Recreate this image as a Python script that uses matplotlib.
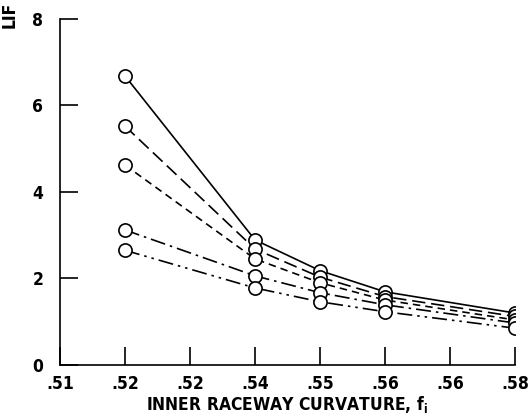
import matplotlib
matplotlib.use("Agg")
import matplotlib.pyplot as plt

# inner raceway curvature values and life factors
curvature = [0.52, 0.54, 0.55, 0.56, 0.58]
life_solid = [6.68, 2.89, 2.18, 1.69, 1.20]
life_long_dash = [5.52, 2.68, 2.03, 1.58, 1.12]
life_short_dash = [4.62, 2.45, 1.90, 1.50, 1.04]
life_dash_dot = [3.12, 2.06, 1.67, 1.39, 0.97]
life_dash_dot_dot = [2.65, 1.78, 1.46, 1.23, 0.85]

tick_pos = [0.51, 0.52, 0.53, 0.54, 0.55, 0.56, 0.57, 0.58]
tick_labels = [".51", ".52", ".52", ".54", ".55", ".56", ".56", ".58"]
y_ticks = [0, 2, 4, 6, 8]

styles = [
    (life_solid, "-"),
    (life_long_dash, (0, (8, 3.5))),
    (life_short_dash, (0, (4.5, 3))),
    (life_dash_dot, (0, (9, 3, 1.5, 3))),
    (life_dash_dot_dot, (0, (9, 3, 1.5, 3, 1.5, 3))),
]

font = dict(family="DejaVu Sans", stretch="condensed", size=12.5)

fig = plt.figure(figsize=(5.31, 4.19), dpi=100)
ax = fig.add_axes([0.113, 0.129, 0.857, 0.826])

for vals, ls in styles:
    ax.plot(curvature, vals, color="black", linestyle=ls, linewidth=1.2,
            marker="o", markersize=9.5, markerfacecolor="white",
            markeredgecolor="black", markeredgewidth=1.2)

ax.set_xlim(0.51, 0.58)
ax.set_ylim(0, 8)
ax.set_xticks(tick_pos)
ax.set_xticklabels(tick_labels, **font)
ax.set_yticks(y_ticks)
ax.set_yticklabels([str(v) for v in y_ticks], **font)
ax.tick_params(direction="in", length=13, width=1.2)
ax.tick_params(axis="x", pad=7)
ax.tick_params(axis="y", pad=12)
for side in ["top", "right"]:
    ax.spines[side].set_visible(False)
for side in ["left", "bottom"]:
    ax.spines[side].set_linewidth(1.2)
for lbl in ax.get_xticklabels() + ax.get_yticklabels():
    lbl.set_fontweight("bold")

ax.set_xlabel("INNER RACEWAY CURVATURE, f$_\\mathregular{i}$", fontweight="bold",
              labelpad=1, **font)
fig.text(0.018, 0.995, "LIF", rotation=90, ha="center", va="top",
         fontweight="bold", **font)

fig.savefig("out.png", dpi=100)
